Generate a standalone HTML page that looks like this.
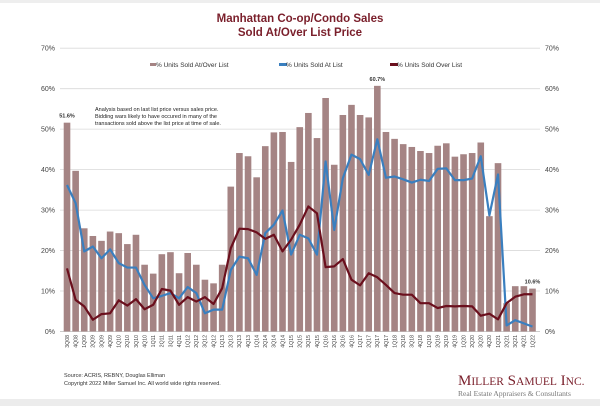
<!DOCTYPE html>
<html><head><meta charset="utf-8"><style>
body{margin:0;background:#fff;width:600px;height:406px;overflow:hidden;font-family:"Liberation Sans",sans-serif}
svg{display:block}
</style></head><body>
<svg id="chart" width="600" height="406" xmlns="http://www.w3.org/2000/svg">
<rect x="0" y="0" width="600" height="406" fill="#fff"/>
<rect x="0" y="0" width="600" height="3" fill="#eeeeee"/>
<rect x="0" y="399" width="600" height="7" fill="#ececec"/>
<text x="300" y="22" text-anchor="middle" font-size="11.5" font-weight="bold" fill="#7a1f2b">Manhattan Co-op/Condo Sales</text>
<text x="300" y="36" text-anchor="middle" font-size="11.5" font-weight="bold" fill="#7a1f2b">Sold At/Over List Price</text>
<g id="grid"></g><g id="bars"></g><g id="lines"></g><g id="axes"></g>
<g font-size="6.5" fill="#333">
<rect x="150" y="63" width="6" height="3" fill="#a58484"/>
<text x="156" y="67">% Units Sold At/Over List</text>
<rect x="279" y="63" width="8" height="3" fill="#3a7fbf"/>
<text x="286" y="67">% Units Sold At List</text>
<rect x="390" y="63" width="8" height="3" fill="#6b0f1d"/>
<text x="397" y="67">% Units Sold Over List</text>
</g>
<g font-size="5.5" fill="#222">
<text x="95" y="111">Analysis based on last list price versus sales price.</text>
<text x="95" y="118">Bidding wars likely to have occured in many of the</text>
<text x="95" y="125">transactions sold above the list price at time of sale.</text>
</g>
<g font-size="5.5" fill="#333">
<text x="64" y="377">Source: ACRIS, REBNY, Douglas Elliman</text>
<text x="64" y="385">Copyright 2022 Miller Samuel Inc.  All world wide rights reserved.</text>
</g>
<text x="458" y="385" font-family="Liberation Serif,serif" font-size="15" fill="#7a1f2b">M<tspan font-size="11.5">ILLER</tspan> S<tspan font-size="11.5">AMUEL</tspan> I<tspan font-size="11.5">NC.</tspan></text>
<text x="458" y="396" font-family="Liberation Serif,serif" font-size="7.5" fill="#777">Real Estate Appraisers &amp; Consultants</text>
</svg>
<script>
const categories=["3Q08","4Q08","1Q09","2Q09","3Q09","4Q09","1Q10","2Q10","3Q10","4Q10","1Q11","2Q11","3Q11","4Q11","1Q12","2Q12","3Q12","4Q12","1Q13","2Q13","3Q13","4Q13","1Q14","2Q14","3Q14","4Q14","1Q15","2Q15","3Q15","4Q15","1Q16","2Q16","3Q16","4Q16","1Q17","2Q17","3Q17","4Q17","1Q18","2Q18","3Q18","4Q18","1Q19","2Q19","3Q19","4Q19","1Q20","2Q20","3Q20","4Q20","1Q21","2Q21","3Q21","4Q21","1Q22"];
const atOverValues=[51.6,39.7,25.5,23.6,22.4,24.7,24.3,21.6,23.9,16.5,14.3,19.1,19.6,14.4,19.4,16.5,12.8,11.9,16.5,35.8,44.1,43.3,38.1,45.8,49.2,49.3,41.9,50.5,54.0,47.8,57.7,41.2,53.5,56.0,53.5,52.9,60.7,49.3,47.6,46.3,45.6,44.6,44.1,45.9,46.5,43.2,43.8,44.1,46.7,28.5,41.6,7.0,11.2,11.2,10.6];
const atValues=[36.2,31.7,19.8,21.0,18.1,20.3,16.9,15.8,15.8,11.5,8.2,8.8,9.5,8.2,11.0,9.5,4.5,5.4,5.4,15.2,18.5,18.1,14.0,24.3,26.4,29.9,19.0,23.9,23.0,19.0,42.0,25.1,37.9,43.7,42.6,38.7,47.5,38.0,38.3,37.6,36.8,37.5,37.2,40.2,40.3,37.4,37.4,37.8,43.3,28.7,38.8,1.5,2.8,2.0,1.2];
const overValues=[15.6,7.8,6.2,2.9,4.3,4.5,7.7,6.4,8.0,5.5,6.6,10.5,10.1,6.6,8.5,7.4,8.5,6.8,10.7,20.6,25.4,25.3,24.5,22.9,23.9,19.8,22.7,26.4,30.9,29.2,15.9,16.1,17.9,12.8,11.4,14.4,13.4,11.5,9.5,9.1,9.1,7.0,7.0,5.8,6.3,6.2,6.3,6.2,3.9,4.4,3.0,7.0,8.6,9.2,9.2];
const yTicks=[0,10,20,30,40,50,60,70];
const barLabels=[{i:0,t:"51.6%"},{i:36,t:"60.7%"},{i:54,t:"10.6%"}];

const NS="http://www.w3.org/2000/svg";
const X0=62.7,STEP=8.62,Y0=331.5,YPER=4.047;
const xS=i=>X0+STEP*(i+0.5);
const yS=v=>Y0-v*YPER;
function mk(tag,attrs,parent){const e=document.createElementNS(NS,tag);for(const k in attrs)e.setAttribute(k,attrs[k]);parent.appendChild(e);return e;}
const grid=document.getElementById('grid'),axes=document.getElementById('axes'),bars=document.getElementById('bars'),lines=document.getElementById('lines');
yTicks.forEach(t=>{
  const g=mk('line',{x1:60,x2:540,y1:yS(t),y2:yS(t),stroke:t===0?'#bbb':'#d9d9d9','stroke-width':0.8},grid);
  
  
  const l=mk('text',{x:55,y:yS(t)+2.5,'text-anchor':'end','font-size':7,fill:'#444'},axes);l.textContent=t+'%';
  
  
  const r=mk('text',{x:545,y:yS(t)+2.5,'font-size':7,fill:'#444'},axes);r.textContent=t+'%';
  
  
});
atOverValues.forEach((v,i)=>{
  const b=mk('rect',{x:xS(i)-3.3,y:yS(v),width:6.6,height:v*YPER,fill:'#a58484'},bars);
  
  
});
categories.forEach((c,i)=>{
  const t=mk('text',{x:0,y:0,'font-size':5.2,fill:'#444','text-anchor':'end',transform:`translate(${xS(i)+1.8},335) rotate(-90)`},axes);
  t.textContent=c;
  
  
});
function line(vals,color,name){
  const p=mk('polyline',{points:vals.map((v,i)=>xS(i)+','+yS(v)).join(' '),fill:'none',stroke:color,'stroke-width':2.2,'stroke-linejoin':'round'},lines);
  
  
}
line(atValues,'#3a7fbf','line-sold-at-list');
line(overValues,'#6b0f1d','line-sold-over-list');
barLabels.forEach(b=>{
  const t=mk('text',{x:xS(b.i),y:yS(atOverValues[b.i])-5,'text-anchor':'middle','font-size':5.5,'font-weight':'bold',fill:'#333'},axes);
  t.textContent=b.t;
  
  
});
</script>
</body></html>
